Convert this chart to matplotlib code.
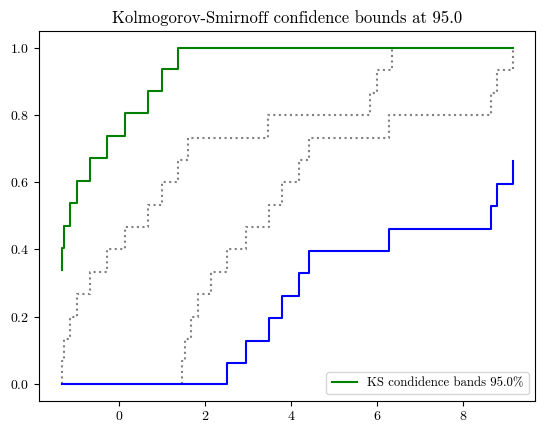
import numpy as np
import matplotlib
matplotlib.use("Agg")
import matplotlib.pyplot as plt

plt.rcParams['font.family'] = ['cmr10', 'DejaVu Serif']
plt.rcParams['mathtext.fontset'] = 'cm'
plt.rcParams['axes.formatter.use_mathtext'] = True

# sorted sample points (jump positions) of the two empirical CDFs
sample_lo = [-1.340, -1.293, -1.153, -0.984, -0.688, -0.293, 0.133, 0.660,
             0.986, 1.365, 1.591, 3.451, 5.830, 5.986, 6.342]
sample_hi = [1.465, 1.521, 1.667, 1.823, 2.133, 2.505, 2.953, 3.481,
             3.784, 4.172, 4.405, 6.272, 8.637, 8.772, 9.149]
# ECDF levels after each jump (k/15), with the starting level 0
levels = [0.0, 0.067, 0.133, 0.200, 0.267, 0.333, 0.400, 0.467, 0.533,
          0.600, 0.667, 0.733, 0.800, 0.867, 0.933, 1.0]
eps = 0.338  # KS critical value at 95%, n = 15
conf = 95.0

lv = np.array(levels)
x_lo = np.r_[sample_lo[0], sample_lo]
x_hi = np.r_[sample_hi[0], sample_hi]

# upper band follows the left ECDF, runs on to the end of the right one
x_up = np.r_[x_lo, sample_hi[-1]]
y_up = np.r_[np.minimum(lv + eps, 1.0), 1.0]
# lower band follows the right ECDF, starts at the left one
x_dn = np.r_[sample_lo[0], x_hi]
y_dn = np.r_[0.0, np.maximum(lv - eps, 0.0)]

fig = plt.figure(figsize=(5.45, 4.33), dpi=100)
ax = fig.add_axes([39.3 / 545, 32.3 / 433, 496 / 545, 369.6 / 433])

ax.step(x_lo, lv, where='post', color='grey', linestyle=':', linewidth=1.5)
ax.step(x_hi, lv, where='post', color='grey', linestyle=':', linewidth=1.5)
ax.step(x_up, y_up, where='post', color='green', linewidth=1.5,
        label='KS condidence bands %.1f%%' % conf)
ax.step(x_dn, y_dn, where='post', color='blue', linewidth=1.5)

ax.set_title('Kolmogorov-Smirnoff confidence bounds at %.1f' % conf, fontsize=12)
ax.legend(loc='lower right', fontsize=9.2)

fig.savefig('out.png', dpi=100)
